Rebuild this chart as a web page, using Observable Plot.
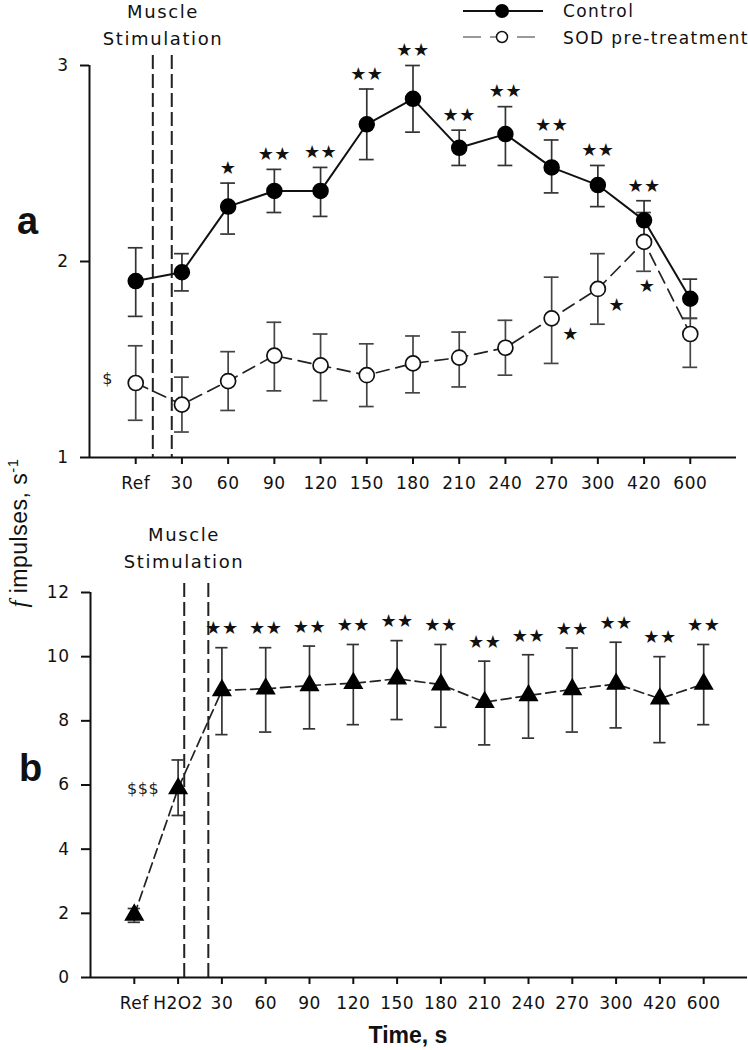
<!DOCTYPE html>
<html><head><meta charset="utf-8">
<script src="https://cdn.jsdelivr.net/npm/d3@7"></script>
<script src="https://cdn.jsdelivr.net/npm/@observablehq/plot@0.6"></script>
<style>
body{margin:0;background:#fff;}
#wrap{position:relative;width:748px;height:1050px;overflow:hidden;background:#fff;}
.abs{position:absolute;}
#overlay text{fill:#111;}
</style></head><body>
<div id="wrap">
  <div id="pa" class="abs" style="left:0;top:0"></div>
  <div id="pb" class="abs" style="left:0;top:500px"></div>
  <svg id="overlay" class="abs" style="left:0;top:0;pointer-events:none" width="748" height="1050">
    <g font-family="DejaVu Sans, sans-serif" font-size="18" letter-spacing="1.6" text-anchor="middle">
      <text x="163" y="18">Muscle</text>
      <text x="163" y="45">Stimulation</text>
      <text x="184" y="541">Muscle</text>
      <text x="184" y="568">Stimulation</text>
    </g>
    <g font-family="Liberation Sans, Arial, sans-serif" font-weight="bold" font-size="38">
      <text x="17" y="234">a</text>
      <text x="19" y="781">b</text>
    </g>
    <text x="408" y="1043" font-family="Liberation Sans, Arial, sans-serif" font-weight="bold" font-size="23" text-anchor="middle">Time, s</text>
    <text transform="translate(27,533) rotate(-90)" font-family="Liberation Sans, Arial, sans-serif" font-size="23" letter-spacing="0.5" text-anchor="middle"><tspan font-style="italic" font-family="Liberation Serif, serif" font-size="25">f</tspan> impulses, s<tspan font-size="15" dy="-9">-1</tspan></text>
    <!-- legend -->
    <line x1="463" x2="543" y1="11" y2="11" stroke="#111" stroke-width="1.8"/>
    <circle cx="502" cy="11" r="7" fill="#000"/>
    <line x1="463" x2="535" y1="37" y2="37" stroke="#999" stroke-width="2" stroke-dasharray="18,9"/>
    <circle cx="502" cy="37" r="5.5" fill="#fff" stroke="#111" stroke-width="1.5"/>
    <g font-family="DejaVu Sans, sans-serif" font-size="17" letter-spacing="1.4">
      <text x="563" y="17">Control</text>
      <text x="563" y="44">SOD pre-treatment</text>
    </g>
  </svg>
</div>
<script>
// ---------- Panel a data ----------
const labelsA = ["Ref","30","60","90","120","150","180","210","240","270","300","420","600"];
const ticksYA = [1, 2, 3];
const controlMean = [1.90,1.945,2.28,2.36,2.36,2.70,2.83,2.58,2.65,2.48,2.39,2.21,1.81];
const controlHi   = [2.07,2.04,2.40,2.47,2.48,2.88,3.00,2.67,2.79,2.62,2.49,2.31,1.91];
const controlLo   = [1.72,1.85,2.14,2.25,2.23,2.52,2.66,2.49,2.49,2.35,2.28,2.11,1.71];
const controlStars = ["","","★","★★","★★","★★","★★","★★","★★","★★","★★","★★",""];
const sodMean = [1.38,1.27,1.39,1.52,1.47,1.42,1.48,1.51,1.56,1.71,1.86,2.10,1.63];
const sodHi   = [1.57,1.41,1.54,1.69,1.63,1.58,1.62,1.64,1.70,1.92,2.04,2.25,1.71];
const sodLo   = [1.19,1.13,1.24,1.34,1.29,1.26,1.33,1.36,1.42,1.48,1.68,1.95,1.46];
const sodStars = ["","","","","","","","","","★","★","★",""];
const sodNotes = ["$","","","","","","","","","","","",""];
const stimA = [0.37, 0.78];

// ---------- Panel b data ----------
const labelsB = ["Ref","H2O2","30","60","90","120","150","180","210","240","270","300","420","600"];
const ticksYB = [0,2,4,6,8,10,12];
const h2o2Mean = [1.95,5.89,8.95,9.00,9.10,9.17,9.31,9.13,8.58,8.79,8.98,9.15,8.69,9.15];
const h2o2Hi   = [2.15,6.78,10.28,10.28,10.33,10.38,10.50,10.38,9.86,10.06,10.27,10.45,10.00,10.38];
const h2o2Lo   = [1.72,5.05,7.57,7.65,7.75,7.88,8.04,7.80,7.25,7.46,7.65,7.78,7.32,7.88];
const h2o2Stars = ["","","★★","★★","★★","★★","★★","★★","★★","★★","★★","★★","★★","★★"];
const h2o2Notes = ["","$$$","","","","","","","","","","","",""];
const stimB = [1.14, 1.69];

const ctl = labelsA.map((lbl,i)=>({i,lbl,mean:controlMean[i],hi:controlHi[i],lo:controlLo[i],star:controlStars[i]}));
const sod = labelsA.map((lbl,i)=>({i,lbl,mean:sodMean[i],hi:sodHi[i],lo:sodLo[i],star:sodStars[i],note:sodNotes[i]}));
const h2 = labelsB.map((lbl,i)=>({i,lbl,mean:h2o2Mean[i],hi:h2o2Hi[i],lo:h2o2Lo[i],star:h2o2Stars[i],note:h2o2Notes[i]}));

const baseStyle = {fontFamily:"DejaVu Sans, sans-serif", fontSize:"17px", letterSpacing:"0.5px", color:"#111", background:"transparent", overflow:"visible"};
const STAR = 18;

function errorBars(data, cap, color) {
  return [
    Plot.ruleX(data, {x:"i", y1:"lo", y2:"hi", stroke:color, strokeWidth:1.7}),
    Plot.ruleY(data, {y:"hi", x1:d=>d.i-cap, x2:d=>d.i+cap, stroke:color, strokeWidth:1.7}),
    Plot.ruleY(data, {y:"lo", x1:d=>d.i-cap, x2:d=>d.i+cap, stroke:color, strokeWidth:1.7})
  ];
}

const plotA = Plot.plot({
  width:748, height:500, marginTop:65, marginBottom:43, marginLeft:89, marginRight:12,
  x:{domain:[-1,13]}, y:{domain:[1,3]},
  style: baseStyle,
  marks:[
    Plot.ruleX(stimA, {x:d=>d, insetTop:-10, stroke:"#222", strokeWidth:2, strokeDasharray:"14,5"}),
    Plot.ruleX([-1], {stroke:"#111", strokeWidth:2}),
    Plot.ruleY([1], {stroke:"#111", strokeWidth:2}),
    Plot.axisY({ticks:ticksYA, tickSize:9, tickPadding:12, tickFormat:d=>String(d), strokeWidth:2, label:null}),
    Plot.axisX({ticks:d3.range(labelsA.length), tickSize:7, tickPadding:12, tickFormat:i=>labelsA[i], strokeWidth:2, label:null}),
    ...errorBars(ctl, 0.16, "#333"),
    ...errorBars(sod, 0.16, "#444"),
    Plot.line(sod, {x:"i", y:"mean", stroke:"#222", strokeWidth:1.7, strokeDasharray:"13,7"}),
    Plot.line(ctl, {x:"i", y:"mean", stroke:"#111", strokeWidth:2}),
    Plot.dot(ctl, {x:"i", y:"mean", r:7.5, fill:"#000", stroke:"#000"}),
    Plot.dot(sod, {x:"i", y:"mean", r:7.5, fill:"white", stroke:"#111", strokeWidth:1.7}),
    Plot.text(ctl.filter(d=>d.star), {x:"i", y:"hi", text:"star", dy:-15, fontSize:STAR, fill:"#111"}),
    Plot.text(sod.filter(d=>d.star && d.lbl!=="420"), {x:"i", y:"mean", text:"star", dx:19, dy:16, fontSize:STAR, fill:"#111"}),
    Plot.text(sod.filter(d=>d.star && d.lbl==="420"), {x:"i", y:"lo", text:"star", dx:3, dy:15, fontSize:STAR, fill:"#111"}),
    Plot.text(sod.filter(d=>d.note), {x:"i", y:"mean", text:"note", dx:-28, dy:-4, fontSize:16, fill:"#222"})
  ]
});
document.getElementById("pa").appendChild(plotA);

const plotB = Plot.plot({
  width:748, height:550, marginTop:92, marginBottom:73, marginLeft:90, marginRight:1,
  x:{domain:[-1,14]}, y:{domain:[0,12]},
  style: baseStyle,
  marks:[
    Plot.ruleX(stimB, {x:d=>d, insetTop:-9, stroke:"#222", strokeWidth:2, strokeDasharray:"14,5"}),
    Plot.ruleX([-1], {stroke:"#111", strokeWidth:2}),
    Plot.ruleY([0], {stroke:"#111", strokeWidth:2}),
    Plot.axisY({ticks:ticksYB, tickSize:9, tickPadding:12, tickFormat:d=>String(d), strokeWidth:2, label:null}),
    Plot.axisX({ticks:d3.range(labelsB.length), tickSize:7, tickPadding:12, tickFormat:i=>labelsB[i], strokeWidth:2, label:null}),
    ...errorBars(h2, 0.14, "#333"),
    Plot.line(h2, {x:"i", y:"mean", stroke:"#222", strokeWidth:1.7, strokeDasharray:"10,5"}),
    Plot.dot(h2, {x:"i", y:"mean", symbol:"triangle", r:6.5, fill:"#000", stroke:"#000"}),
    Plot.text(h2.filter(d=>d.star), {x:"i", y:"hi", text:"star", dy:-19, fontSize:STAR, fill:"#111"}),
    Plot.text(h2.filter(d=>d.note), {x:"i", y:"mean", text:"note", dx:-35, dy:0, fontSize:16, fill:"#222"})
  ]
});
document.getElementById("pb").appendChild(plotB);
</script>
</body></html>
